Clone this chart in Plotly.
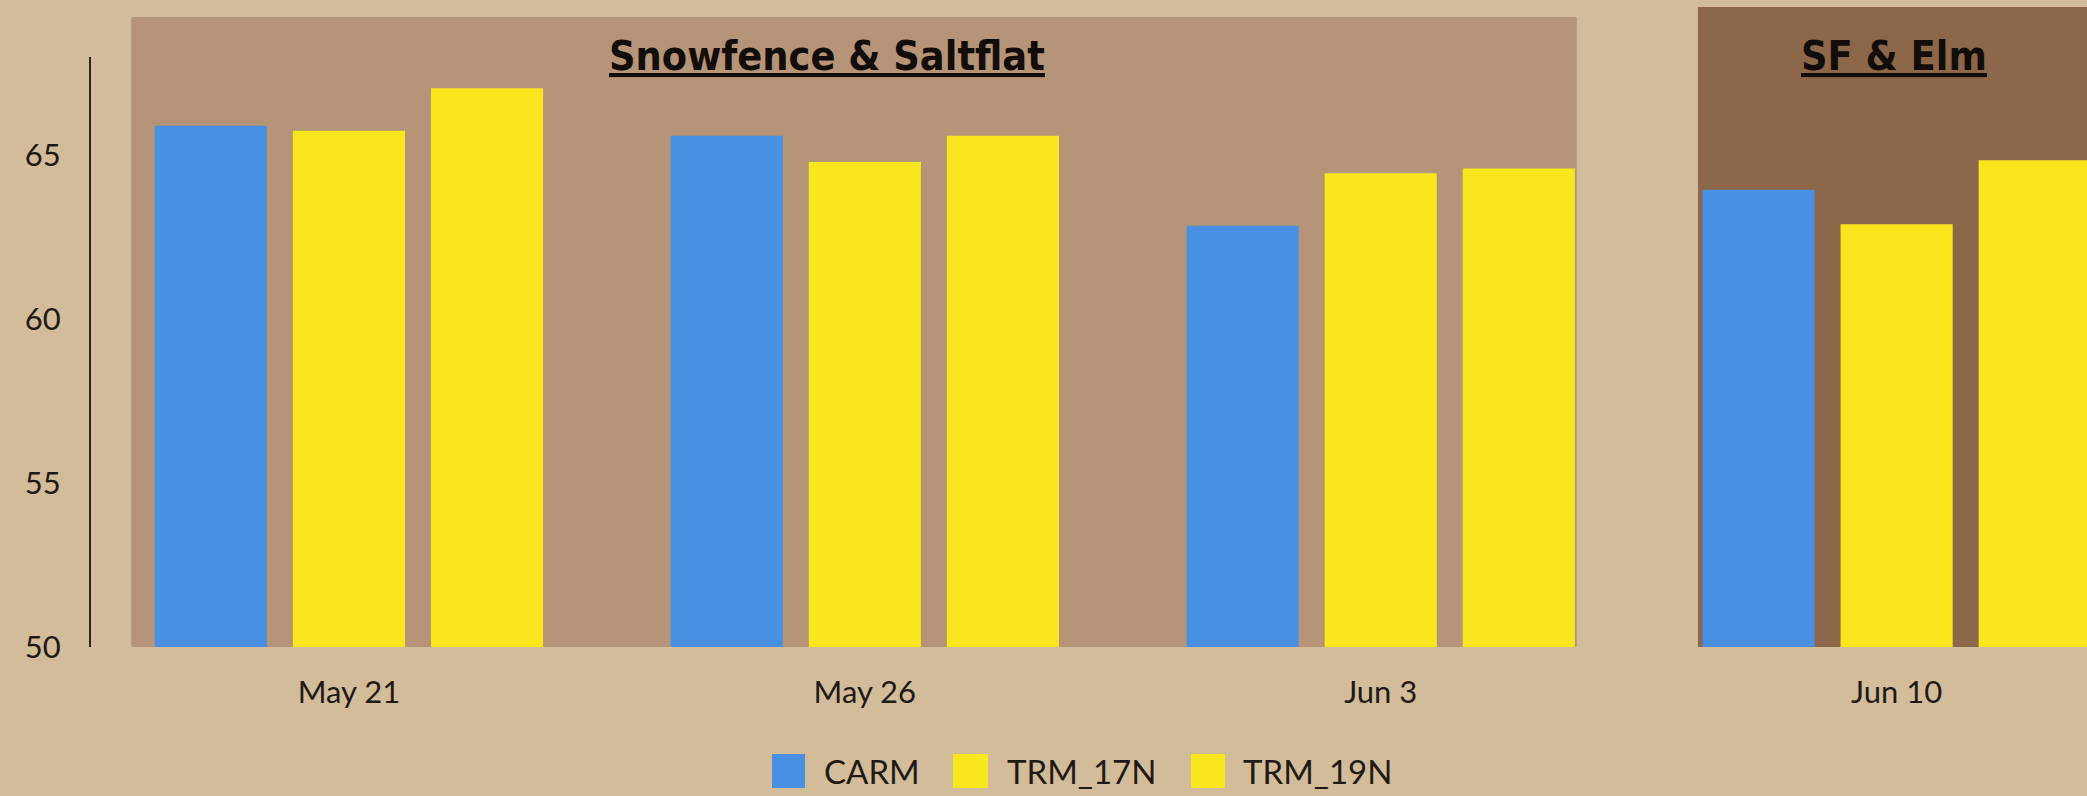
import plotly.graph_objects as go

# ---- data ----
dates = ["May 21", "May 26", "Jun 3", "Jun 10"]
carm = [65.9, 65.6, 62.85, 63.95]
trm_17n = [65.75, 64.8, 64.45, 62.9]
trm_19n = [67.05, 65.6, 64.6, 64.85]
series_names = ["CARM", "TRM_17N", "TRM_19N"]
y_ticks = [50, 55, 60, 65]
site_labels = ["Snowfence & Saltflat", "SF & Elm"]

# ---- style ----
W, H = 2087, 796
ML, MR, MT, MB = 91, 0, 57, 149
PW, PH = W - ML - MR, H - MT - MB
BG = "#D2BC99"
BOX1 = "#B59478"
BOX2 = "#8C6749"
BLUE = "#4A90E2"
YELLOW = "#F8E71C"
TXT = "#1f1a17"
colors = [BLUE, YELLOW, YELLOW]

fig = go.Figure()
for name, vals, col in zip(series_names, [carm, trm_17n, trm_19n], colors):
    fig.add_trace(go.Bar(x=dates, y=vals, name=name, marker=dict(color=col, line=dict(width=0)),
                         showlegend=False))

def px_to_paper_x(px):
    return (px - ML) / PW

def py_to_paper_y(py):
    return (MT + PH - py) / PH

shapes = [
    # site background boxes
    dict(type="rect", xref="x", yref="paper", x0=-0.422, x1=2.38,
         y0=0, y1=py_to_paper_y(17), fillcolor=BOX1, line=dict(width=0), layer="below"),
    dict(type="rect", xref="x", yref="paper", x0=2.615, x1=3.6,
         y0=0, y1=py_to_paper_y(7), fillcolor=BOX2, line=dict(width=0), layer="below"),
]

TITLE_FONT = "Liberation Sans Narrow, DejaVu Sans Condensed, Arial Narrow, sans-serif"
annotations = [
    dict(text=site_labels[0], xref="x", yref="paper", x=0.927, y=py_to_paper_y(56),
         showarrow=False, xanchor="center", yanchor="middle",
         font=dict(family=TITLE_FONT, size=41, color="#120d0a", weight="bold", lineposition="under")),
    dict(text=site_labels[1], xref="x", yref="paper", x=2.995, y=py_to_paper_y(56),
         showarrow=False, xanchor="center", yanchor="middle",
         font=dict(family=TITLE_FONT, size=41, color="#120d0a", weight="bold", lineposition="under")),
]

# manual legend with large swatches
sw_px = [(772, 805), (953, 988), (1191, 1225)]
txt_px = [822, 1005, 1241]
ly0, ly1, lyc = 754, 788, 771
for (a, b), tx, name, col in zip(sw_px, txt_px, series_names, colors):
    shapes.append(dict(type="rect", xref="paper", yref="paper",
                       x0=px_to_paper_x(a), x1=px_to_paper_x(b),
                       y0=py_to_paper_y(ly1), y1=py_to_paper_y(ly0),
                       fillcolor=col, line=dict(width=0)))
    annotations.append(dict(text=name, xref="paper", yref="paper",
                            x=px_to_paper_x(tx), y=py_to_paper_y(lyc),
                            xanchor="left", yanchor="middle", showarrow=False,
                            font=dict(family="Lato, sans-serif", size=33, color=TXT)))

fig.update_layout(
    width=W, height=H,
    margin=dict(l=ML, r=MR, t=MT, b=MB, pad=0),
    paper_bgcolor=BG, plot_bgcolor="rgba(0,0,0,0)",
    barmode="group", bargap=0.197, bargroupgap=0.188,
    font=dict(family="Lato, sans-serif", color=TXT, size=32),
    shapes=shapes, annotations=annotations,
    showlegend=False,
    xaxis=dict(range=[-0.5, 3.369], showgrid=False, zeroline=False, showline=False,
               ticks="outside", ticklen=18, tickcolor="rgba(0,0,0,0)",
               tickfont=dict(family="Lato, sans-serif", size=31, color=TXT)),
    yaxis=dict(range=[50, 68], tickvals=y_ticks, showgrid=False, zeroline=False,
               showline=True, linecolor="#2a2320", linewidth=2,
               ticks="outside", ticklen=22, tickcolor="rgba(0,0,0,0)",
               tickfont=dict(family="Lato, sans-serif", size=31, color=TXT)),
)

fig.write_html("out.html", config={"displayModeBar": False},
               post_script="document.body.style.margin='0';document.body.style.overflow='hidden';")
